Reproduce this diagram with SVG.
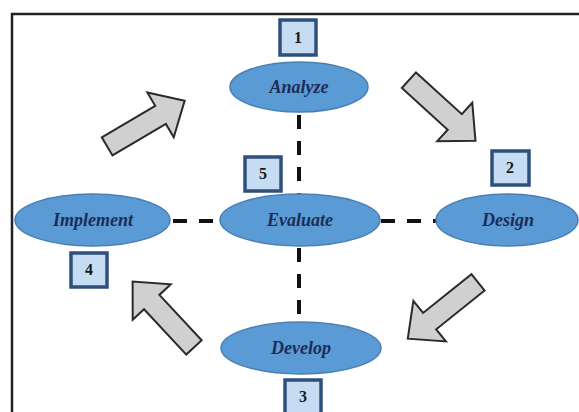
<svg xmlns="http://www.w3.org/2000/svg" xmlns:xlink="http://www.w3.org/1999/xlink" width="579" height="412" viewBox="0 0 579 412">
<style>
.ell{fill:#5b9bd5;stroke:#4a7fb5;stroke-width:1.5}
.lbl{font-family:"Liberation Serif","Times New Roman",serif;font-weight:bold;font-style:italic;font-size:18px;fill:#1c2c55;text-anchor:middle}
.box{fill:#c6dcf2;stroke:#2f4f7c;stroke-width:3.5}
.num{font-family:"Liberation Serif","Times New Roman",serif;font-weight:bold;font-size:16px;fill:#1a1a1a;text-anchor:middle}
.dash{stroke:#111;stroke-width:4;stroke-dasharray:14 12;fill:none}
.blk{fill:#d0d0d0;stroke:#2a2a2a;stroke-width:2;stroke-linejoin:miter}
</style>
<defs>
<polygon id="blockArrow" class="blk" points="-45,-10.5 17,-10.5 17,-26 45,0 17,26 17,10.5 -45,10.5"/>
</defs>
<rect x="0" y="0" width="579" height="412" fill="#ffffff"/>
<path d="M12,420 V14 H590" fill="none" stroke="#222" stroke-width="2.5"/>
<g id="connectors">
<line class="dash" x1="299" y1="115" x2="299" y2="194"/>
<line class="dash" x1="299" y1="248" x2="299" y2="321"/>
<line class="dash" x1="173" y1="221" x2="221" y2="221"/>
<line class="dash" x1="381" y1="221" x2="437" y2="221"/>
<use xlink:href="#blockArrow" transform="translate(145.9,123.5) rotate(-30.5)"/>
<use xlink:href="#blockArrow" transform="translate(442.2,110.5) rotate(42.3)"/>
<use xlink:href="#blockArrow" transform="translate(442.9,310.5) rotate(141.3)"/>
<use xlink:href="#blockArrow" transform="translate(163.3,314.5) rotate(-133)"/>
</g>
<g id="analyze">
<ellipse class="ell" cx="299" cy="87" rx="69" ry="25"/>
<text class="lbl" x="299" y="93">Analyze</text>
</g>
<g id="box1">
<rect class="box" x="280" y="20" width="36" height="35"/>
<text class="num" x="298" y="43">1</text>
</g>
<g id="evaluate">
<ellipse class="ell" cx="300" cy="220" rx="80" ry="26"/>
<text class="lbl" x="300" y="226">Evaluate</text>
</g>
<g id="box5">
<rect class="box" x="245" y="157" width="36" height="34"/>
<text class="num" x="263" y="179">5</text>
</g>
<g id="implement">
<ellipse class="ell" cx="92.5" cy="220" rx="77.5" ry="26"/>
<text class="lbl" x="93" y="226">Implement</text>
</g>
<g id="box4">
<rect class="box" x="71" y="253" width="36" height="34"/>
<text class="num" x="89" y="275">4</text>
</g>
<g id="design">
<ellipse class="ell" cx="507" cy="220" rx="71" ry="26"/>
<text class="lbl" x="508" y="226">Design</text>
</g>
<g id="box2">
<rect class="box" x="492" y="151" width="37" height="34"/>
<text class="num" x="510" y="173">2</text>
</g>
<g id="develop">
<ellipse class="ell" cx="301" cy="348" rx="80" ry="26"/>
<text class="lbl" x="301" y="354">Develop</text>
</g>
<g id="box3">
<rect class="box" x="285" y="380" width="36" height="36"/>
<text class="num" x="303" y="402">3</text>
</g>
</svg>
